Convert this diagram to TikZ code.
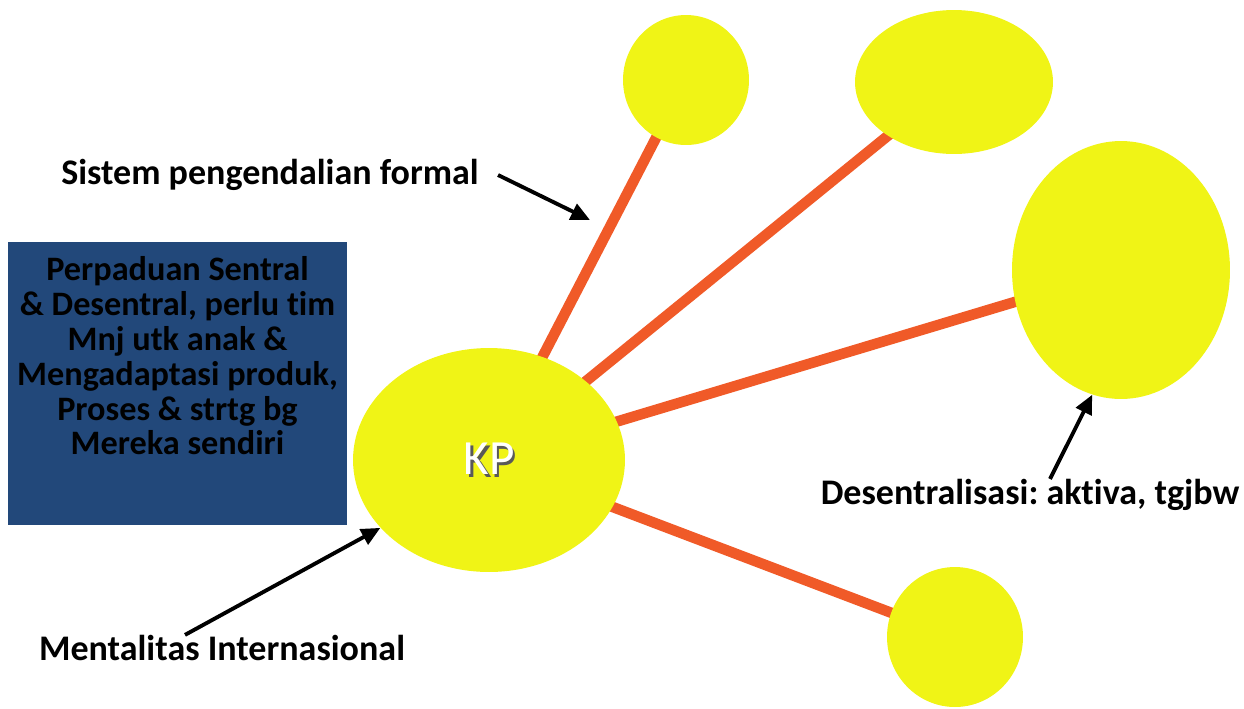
\documentclass[tikz,border=0pt]{standalone}
\usepackage{fontspec}
\setmainfont[Ligatures=NoCommon]{Carlito}
\usetikzlibrary{shapes.geometric, arrows.meta, positioning, calc}
\frenchspacing

\definecolor{bolakuning}{RGB}{240,244,22}
\definecolor{jarioranye}{RGB}{240,90,40}
\definecolor{kotakbiru}{RGB}{34,72,122}

\pgfdeclarelayer{latar}
\pgfsetlayers{latar,main}

\newcommand{\teksbayang}[1]{\makebox[0pt][l]{\hspace{1.5pt}\raisebox{-1.5pt}{\textcolor{black!65}{#1}}}\textcolor{white}{#1}}

\begin{document}
\begin{tikzpicture}[x=0.02cm, y=-0.02cm,
    bola/.style={ellipse, fill=bolakuning, inner sep=0pt},
    jari/.style={draw=jarioranye, line width=6pt},
    label/.style={font=\fontsize{20.5}{24}\selectfont\bfseries, inner sep=0pt},
    panah/.style={-{Triangle[length=0.38cm, width=0.34cm]}, line width=2.2pt}]
    \useasboundingbox (0,0) rectangle (1244,708);

    % bola-bola
    \node [bola, minimum width=5.44cm, minimum height=4.48cm, font=\fontsize{28}{34}\selectfont] (kp) at (489,460) {\teksbayang{KP}};
    \node [bola, minimum width=2.52cm, minimum height=2.6cm] (atas) at (686,80) {};
    \node [bola, minimum width=3.96cm, minimum height=2.88cm] (kananatas) at (954,82) {};
    \node [bola, minimum width=4.36cm, minimum height=5.16cm] (kanan) at (1121,270) {};
    \node [bola, minimum width=2.72cm, minimum height=2.8cm] (bawah) at (955,637) {};

    \begin{pgfonlayer}{latar}
      \draw [jari] (kp.center) -- (atas.center);
      \draw [jari] (kp.center) -- (kananatas.center);
      \draw [jari] (kp.center) -- (kanan.center);
      \draw [jari] (kp.center) -- (bawah.center);
    \end{pgfonlayer}

    % kotak biru
    \node [fill=kotakbiru, minimum width=6.78cm, minimum height=5.66cm, inner sep=0pt] (kotak) at (177.5,383.5) {};
    \node [align=center, inner sep=0pt, font=\fontsize{19.5}{19.8}\selectfont\bfseries] (isikotak) at ([yshift=0.55cm]kotak.center)
      {Perpaduan Sentral\\ \& Desentral, perlu tim\\ Mnj utk anak \&\\ Mengadaptasi produk,\\ Proses \& strtg bg\\ Mereka sendiri};

    % keterangan
    \node [label] (sistem) at (270,175) {Sistem pengendalian formal};
    \node [label] (desen) at (1030,495) {Desentralisasi: aktiva, tgjbw};
    \node [label] (mental) at (222,648) {Mentalitas Internasional};

    \coordinate (ujungsistem) at (590,220);
    \draw [panah] ([xshift=0.38cm]sistem.east) -- (ujungsistem);
    \draw [panah] ([xshift=0.4cm]desen.north) -- (kanan.257);
    \draw [panah] ([xshift=-0.74cm]mental.north) -- (kp.212);
\end{tikzpicture}
\end{document}
